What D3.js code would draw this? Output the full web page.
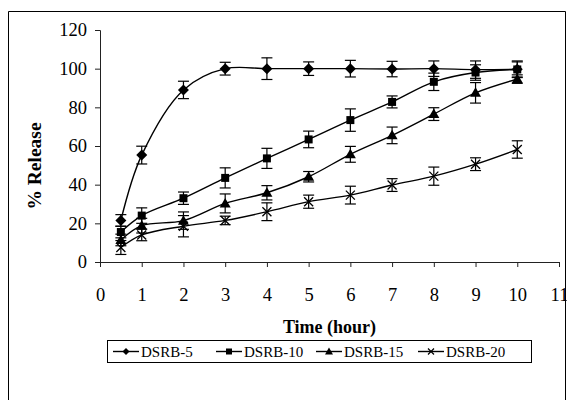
<!DOCTYPE html>
<html>
<head>
<meta charset="utf-8">
<script src="https://cdn.jsdelivr.net/npm/d3@7"></script>
<style>
  body { margin: 0; background: #fff; }
  text { font-family: "Liberation Serif", "Times New Roman", serif; fill: #000; }
</style>
</head>
<body>
<div id="chart"></div>
<script>
// Time points (hours)
const hours = [0.5, 1, 2, 3, 4, 5, 6, 7, 8, 9, 10];

// % Release per formulation
const dsrb5  = [21.5, 55.3, 89, 100, 100, 100, 100, 99.8, 100, 99.5, 99.7];
const dsrb10 = [15.5, 24, 33, 43.5, 53.6, 63.4, 73.4, 82.8, 93.2, 98, 99.6];
const dsrb15 = [11.4, 18.8, 21.4, 30.3, 35.8, 44.1, 55.7, 65.5, 76.5, 87.5, 94.6];
const dsrb20 = [7.5, 14, 18.5, 21.5, 26, 31.2, 34.6, 39.8, 44.4, 50.6, 58.2];

// Error bar half-lengths (SD)
const sd5  = [3, 4.6, 4.5, 3.3, 5.6, 3.5, 4.3, 4, 4, 4.5, 4.3];
const sd10 = [3, 4, 3.2, 5.2, 5.2, 4.3, 5.8, 3.1, 4.5, 4, 3.9];
const sd15 = [3, 3.8, 4.5, 4.9, 3.7, 2.7, 4.1, 4.3, 3.3, 5.3, 2.2];
const sd20 = [3.6, 3, 5.5, 2.2, 4.6, 3.4, 4.6, 3.3, 4.7, 3.3, 4.5];

const seriesNames = ["DSRB-5", "DSRB-10", "DSRB-15", "DSRB-20"];
const seriesValues = [dsrb5, dsrb10, dsrb15, dsrb20];
const seriesErrors = [sd5, sd10, sd15, sd20];
const markerTypes = ["diamond", "square", "triangle", "cross"];

const xTicks = d3.range(0, 12);
const yTicks = d3.range(0, 121, 20);

const width = 567, height = 400;

const svg = d3.select("#chart").append("svg")
    .attr("width", width)
    .attr("height", height);

// outer chart border
svg.append("path")
    .attr("d", "M8.5,402 V11.5 H565.5 V402")
    .attr("fill", "none")
    .attr("stroke", "#000");

const x = d3.scaleLinear().domain([0, 11]).range([100, 559]);
const y = d3.scaleLinear().domain([0, 120]).range([262, 30]);

// axes
const yAxis = svg.append("g")
    .attr("transform", `translate(${x(0)},0)`)
    .call(d3.axisLeft(y).tickValues(yTicks).tickSize(5).tickPadding(8));
const xAxis = svg.append("g")
    .attr("transform", `translate(0,${y(0)})`)
    .call(d3.axisBottom(x).tickValues(xTicks).tickSize(5).tickPadding(21));

[xAxis, yAxis].forEach(g => {
    g.select(".domain").attr("stroke", "#222");
    g.selectAll(".tick line").attr("stroke", "#222");
    g.selectAll(".tick text")
        .style("font-family", "'Liberation Serif', serif")
        .style("font-size", "18.5px")
        .attr("fill", "#000");
});

// axis titles
svg.append("text")
    .attr("x", (x(0) + x(11)) / 2)
    .attr("y", 333)
    .attr("text-anchor", "middle")
    .style("font-size", "18px")
    .style("font-weight", "bold")
    .text("Time (hour)");

svg.append("text")
    .attr("transform", `translate(41,${(y(0) + y(120)) / 2 + 20}) rotate(-90)`)
    .attr("text-anchor", "middle")
    .style("font-size", "19.5px")
    .style("font-weight", "bold")
    .text("% Release");

// marker drawing
function drawMarker(g, type, cx, cy) {
    if (type === "diamond") {
        g.append("path")
            .attr("d", `M${cx},${cy - 5.5} L${cx + 5.5},${cy} L${cx},${cy + 5.5} L${cx - 5.5},${cy} Z`)
            .attr("fill", "#000");
    } else if (type === "square") {
        g.append("rect")
            .attr("x", cx - 4).attr("y", cy - 4)
            .attr("width", 8).attr("height", 8)
            .attr("fill", "#000");
    } else if (type === "triangle") {
        g.append("path")
            .attr("d", `M${cx},${cy - 5.5} L${cx + 5.5},${cy + 4} L${cx - 5.5},${cy + 4} Z`)
            .attr("fill", "#000");
    } else {
        g.append("path")
            .attr("d", `M${cx - 4.5},${cy - 4.5} L${cx + 4.5},${cy + 4.5} M${cx - 4.5},${cy + 4.5} L${cx + 4.5},${cy - 4.5}`)
            .attr("stroke", "#000")
            .attr("stroke-width", 1.3);
    }
}

const line = d3.line()
    .x(d => x(d.t))
    .y(d => y(d.v))
    .curve(d3.curveCatmullRom.alpha(0.5));

seriesValues.forEach((vals, i) => {
    const pts = hours.map((t, j) => ({ t: t, v: vals[j], e: seriesErrors[i][j] }));
    const g = svg.append("g");

    g.append("path")
        .datum(pts)
        .attr("d", line)
        .attr("fill", "none")
        .attr("stroke", "#000")
        .attr("stroke-width", 1.4);

    // error bars
    const eb = g.append("g").attr("stroke", "#000").attr("stroke-width", 1.2);
    pts.forEach(p => {
        const cx = x(p.t);
        eb.append("line").attr("x1", cx).attr("x2", cx)
            .attr("y1", y(p.v - p.e)).attr("y2", y(p.v + p.e));
        eb.append("line").attr("x1", cx - 5.5).attr("x2", cx + 5.5)
            .attr("y1", y(p.v - p.e)).attr("y2", y(p.v - p.e));
        eb.append("line").attr("x1", cx - 5.5).attr("x2", cx + 5.5)
            .attr("y1", y(p.v + p.e)).attr("y2", y(p.v + p.e));
    });

    pts.forEach(p => drawMarker(g, markerTypes[i], x(p.t), y(p.v)));
});

// legend
const legend = svg.append("g");
legend.append("rect")
    .attr("x", 107.5).attr("y", 340.5)
    .attr("width", 424).attr("height", 22)
    .attr("fill", "#fff")
    .attr("stroke", "#000");

const legendX = [113, 216, 316, 418];
seriesNames.forEach((name, i) => {
    const lx = legendX[i], ly = 351.5;
    legend.append("line")
        .attr("x1", lx).attr("x2", lx + 26)
        .attr("y1", ly).attr("y2", ly)
        .attr("stroke", "#000")
        .attr("stroke-width", 1.4);
    const mg = legend.append("g");
    if (markerTypes[i] === "cross") {
        mg.append("path")
            .attr("d", `M${lx + 10},${ly - 3} L${lx + 16},${ly + 3} M${lx + 10},${ly + 3} L${lx + 16},${ly - 3}`)
            .attr("stroke", "#000").attr("stroke-width", 1.2);
    } else if (markerTypes[i] === "diamond") {
        mg.append("path")
            .attr("d", `M${lx + 13},${ly - 3.5} L${lx + 16.5},${ly} L${lx + 13},${ly + 3.5} L${lx + 9.5},${ly} Z`)
            .attr("fill", "#000");
    } else if (markerTypes[i] === "square") {
        mg.append("rect")
            .attr("x", lx + 10).attr("y", ly - 3)
            .attr("width", 6).attr("height", 6)
            .attr("fill", "#000");
    } else {
        mg.append("path")
            .attr("d", `M${lx + 13},${ly - 4} L${lx + 17},${ly + 3} L${lx + 9},${ly + 3} Z`)
            .attr("fill", "#000");
    }
    legend.append("text")
        .attr("x", lx + 28)
        .attr("y", ly + 5)
        .style("font-size", "15px")
        .text(name);
});
</script>
</body>
</html>
